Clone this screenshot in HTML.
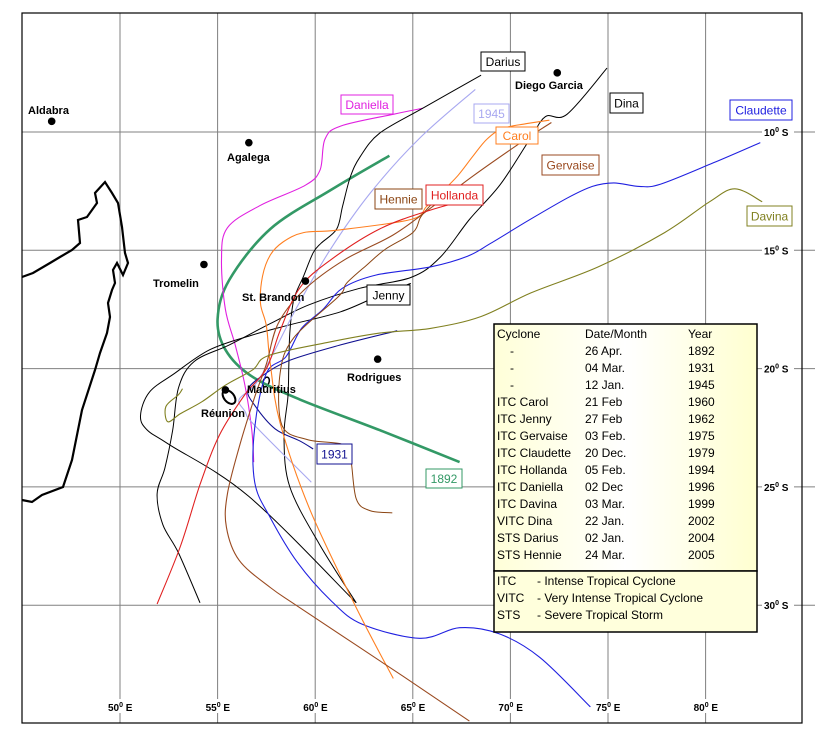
<!DOCTYPE html>
<html><head><meta charset="utf-8"><style>
body{margin:0;background:#fff;}
svg{display:block;font-family:"Liberation Sans",sans-serif;}
.pl{font-size:11px;font-weight:bold;fill:#000;}
.ax{font-size:10px;font-weight:bold;fill:#000;}
.tb{font-size:12px;}
.lg{font-size:12px;fill:#000;}
</style></head><body>
<svg id="map" width="838" height="741" viewBox="0 0 838 741">
<defs>
<linearGradient id="lgbg" x1="0" x2="1" y1="0" y2="0">
<stop offset="0" stop-color="#ffffd8"/><stop offset="0.5" stop-color="#ffffff"/><stop offset="1" stop-color="#ffffd0"/>
</linearGradient>
</defs>
<g id="grid"></g>
<path fill="none" stroke="#000" stroke-width="2.2" d="M22,277 L33,273 L50,263 L60,257 L72,250 L80,243 L78,220 L87,217 L97,203 L95,193 L105,182 L112,193 L118,203 L122,227 L125,253 L128,263 L123,275 L117,263 L113,270 L115,283 L112,290 L108,303 L110,317 L107,333 L100,353 L95,370 L82,410 L72,460 L63,487 L42,495 L32,502 L22,500"/>
<ellipse cx="229" cy="397" rx="5" ry="8" transform="rotate(-40 229 397)" fill="none" stroke="#000" stroke-width="2"/>
<ellipse cx="266" cy="382" rx="3" ry="5" transform="rotate(20 266 382)" fill="none" stroke="#000" stroke-width="1.5"/>
<g id="tracks"></g>
<g id="places"></g>
<g id="labels"></g>
<rect x="22" y="13" width="780" height="710" fill="none" stroke="#000" stroke-width="1.2"/>
<g>
<rect x="494" y="324" width="263" height="247" fill="url(#lgbg)" stroke="#000" stroke-width="1.5"/>
<rect x="494" y="571" width="263" height="61" fill="#ffffdc" stroke="#000" stroke-width="1.5"/>
<g id="legrows"></g>
<text class="lg" x="497" y="585">ITC</text><text class="lg" x="537" y="585">-  Intense Tropical Cyclone</text>
<text class="lg" x="497" y="602">VITC</text><text class="lg" x="537" y="602">-  Very Intense Tropical Cyclone</text>
<text class="lg" x="497" y="619">STS</text><text class="lg" x="537" y="619">-  Severe Tropical Storm</text>
</g>
</svg>
<script>
const lonTicks=[50,55,60,65,70,75,80];
const latTicks=[10,15,20,25,30];
function X(lon){return 120+(lon-50)*19.52;}
function Y(lat){return 132+(lat-10)*23.66;}
const NS='http://www.w3.org/2000/svg';
function mk(t,a,p){const e=document.createElementNS(NS,t);for(const k in a)e.setAttribute(k,a[k]);p.appendChild(e);return e;}
const grid=document.getElementById('grid');
lonTicks.forEach(v=>{
  const l=mk('line',{x1:X(v),x2:X(v),y1:13,y2:723,stroke:'#808080','stroke-width':1},grid);
  
  
  mk('rect',{x:X(v)-17,y:699,width:36,height:14,fill:'#fff'},grid);
  const t=mk('text',{x:X(v)-12,y:711,class:'ax'},grid);
  t.innerHTML=v+'<tspan dy="-4" font-size="7">0</tspan><tspan dy="4"> E</tspan>';
  
  
});
latTicks.forEach(v=>{
  const l=mk('line',{x1:22,x2:815,y1:Y(v),y2:Y(v),stroke:'#808080','stroke-width':1},grid);
  
  
  mk('rect',{x:762,y:Y(v)-8,width:32,height:14,fill:'#fff'},grid);
  const t=mk('text',{x:764,y:Y(v)+4,class:'ax'},grid);
  t.innerHTML=v+'<tspan dy="-4" font-size="7">0</tspan><tspan dy="4"> S</tspan>';
  
  
});
// track data [lon, lat S]
const t1892=[[63.8,11.0],[60.8,12.45],[57.7,14.1],[55.6,16.25],[55.0,17.9],[55.4,19.2],[56.7,20.3],[59.2,21.3],[63.3,22.6],[67.4,23.95]];
const tDaniella=[[65.5,9.0],[64.0,9.25],[61.3,9.75],[60.5,10.3],[60.25,11.6],[59.5,12.25],[57.2,13.1],[55.5,14.05],[55.2,15.4],[55.4,17.5],[55.9,19.0],[56.4,20.7],[56.75,22.6],[56.85,23.95]];
const tDarius=[[68.5,7.6],[65.5,9.0],[63.3,10.05],[62.3,11.05],[61.8,11.9],[61.4,13.15],[61.1,14.1],[60.3,14.7],[59.9,15.1],[59.4,16.1],[58.9,17.1],[58.7,18.5],[58.65,19.9],[58.6,21.2],[58.4,22.9],[58.7,25.0],[60.2,27.4],[62.1,29.9]];
const tDina=[[74.95,7.3],[72.9,9.25],[71.8,9.35],[71.0,10.3],[69.5,12.2],[67.9,13.7],[66.4,15.3],[64.9,16.15],[62.3,16.6],[59.7,17.3],[57.7,18.1],[55.6,19.0],[53.8,19.7],[53.0,20.8],[52.7,22.6],[52.3,24.2],[51.9,25.3],[52.2,26.6],[53.0,27.8],[54.1,29.9]];
const tJenny=[[64.9,16.4],[63.3,16.9],[61.3,17.6],[58.7,18.15],[56.7,18.6],[54.6,19.2],[52.8,20.2],[51.5,21.0],[51.05,22.0],[51.4,22.6],[52.5,23.2],[56.6,25.4],[62.1,29.9]];
const t1945=[[68.2,8.2],[65.3,10.3],[62.8,12.6],[60.75,15.0],[59.0,17.5],[57.7,19.6],[56.9,20.7],[56.1,21.3],[56.4,21.8],[56.9,22.4],[59.8,24.8]];
const t1931=[[64.2,18.4],[61.3,19.0],[58.7,19.65],[57.3,20.3],[56.55,20.9],[56.9,21.55],[57.95,22.55],[59.2,23.05],[59.9,23.4]];
const tClaudette=[[82.8,10.45],[80.4,11.3],[77.7,12.2],[76.6,12.3],[75.3,12.15],[74.2,12.3],[72.9,12.8],[70.9,13.75],[69.0,14.7],[67.8,15.25],[65.9,15.7],[63.1,16.05],[61.4,16.6],[60.4,17.5],[59.3,18.3],[58.5,19.5],[57.5,20.2],[56.9,22.5],[56.9,24.8],[57.7,26.3],[59.1,28.2],[60.8,29.8],[62.4,30.8],[65.35,31.4],[67.4,30.95],[69.4,31.2],[71.5,32.2],[74.1,34.3]];
const tCarol=[[72.0,9.5],[70.8,9.65],[69.6,9.85],[68.8,10.3],[68.1,11.0],[67.3,11.85],[66.4,12.6],[65.7,13.15],[64.9,13.7],[61.1,14.15],[59.4,14.25],[58.35,14.65],[57.7,15.2],[57.3,16.1],[57.2,17.25],[57.5,18.2],[57.7,19.8],[58.2,22.3],[59.7,25.9],[62.1,30.1],[64.0,33.1]];
const tGervaise=[[72.1,9.6],[70.7,10.35],[68.1,11.85],[66.1,13.1],[64.0,14.35],[61.5,15.4],[59.4,16.7],[58.1,18.1],[57.5,19.8],[56.9,21.2],[56.15,23.2],[55.5,25.3],[55.45,26.7],[56.1,28.1],[57.7,29.25],[59.2,30.1],[64.5,33.0],[67.9,34.9]];
const tHennie=[[65.9,13.1],[65.4,13.6],[65.0,14.25],[63.6,14.95],[62.6,15.65],[61.6,16.4],[61.2,16.95],[58.9,18.7],[58.2,20.2],[58.3,22.4],[59.6,23.0],[61.4,23.2],[61.8,23.7],[62.1,25.5],[62.8,26.0],[63.95,26.1]];
const tHollanda=[[68.6,12.7],[65.9,13.3],[63.3,14.1],[60.8,15.4],[59.2,16.6],[58.2,18.4],[57.5,20.0],[56.4,21.1],[55.1,22.8],[54.1,24.9],[53.1,27.5],[51.9,29.95]];
const tDavina=[[82.9,12.95],[81.5,12.4],[80.2,12.95],[77.9,14.25],[74.5,15.7],[71.05,16.8],[68.5,17.8],[65.9,18.3],[63.3,18.5],[60.6,18.9],[57.6,19.45],[56.8,20.05],[55.4,20.7],[54.2,21.4],[53.1,21.9],[52.45,22.25],[52.35,21.6],[53.0,21.1],[53.2,20.85]];
const tracks=[
 ['1892',t1892,'#339966',2.6],['daniella',tDaniella,'#e020e0',1.1],['darius',tDarius,'#000',1],
 ['dina',tDina,'#000',1],['jenny',tJenny,'#000',1],['1945',t1945,'#a8a8f0',1.1],['1931',t1931,'#101090',1.1],
 ['claudette',tClaudette,'#2020e0',1.1],['carol',tCarol,'#ff7f20',1.1],['gervaise',tGervaise,'#9a4a20',1.1],
 ['hennie',tHennie,'#8b4513',1],['hollanda',tHollanda,'#e02020',1.1],['davina',tDavina,'#808020',1.1]];
function smooth(pts){
  const p=pts.map(d=>[X(d[0]),Y(d[1])]);
  let s='M'+p[0][0].toFixed(1)+','+p[0][1].toFixed(1);
  for(let i=0;i<p.length-1;i++){
    const p0=p[Math.max(0,i-1)],p1=p[i],p2=p[i+1],p3=p[Math.min(p.length-1,i+2)];
    const c1=[p1[0]+(p2[0]-p0[0])/6,p1[1]+(p2[1]-p0[1])/6];
    const c2=[p2[0]-(p3[0]-p1[0])/6,p2[1]-(p3[1]-p1[1])/6];
    s+=' C'+c1[0].toFixed(1)+','+c1[1].toFixed(1)+' '+c2[0].toFixed(1)+','+c2[1].toFixed(1)+' '+p2[0].toFixed(1)+','+p2[1].toFixed(1);
  }
  return s;
}
const tg=document.getElementById('tracks');
tracks.forEach(t=>{
  const e=mk('path',{d:smooth(t[1]),fill:'none',stroke:t[2],'stroke-width':t[3]},tg);
  
  
});
// places
const placeNames=['Aldabra','Agalega','Tromelin','St. Brandon','Diego Garcia','Rodrigues','Mauritius','Réunion'];
const placeDots=[[46.5,9.55],[56.6,10.45],[54.3,15.6],[59.5,16.3],[72.4,7.5],[63.2,19.6],null,[55.4,20.9]];
const placeText=[[28,114],[227,161],[153,287],[242,301],[515,89],[347,381],[247,393],[201,417]];
const pg=document.getElementById('places');
placeNames.forEach((n,i)=>{
  if(placeDots[i]){const c=mk('circle',{cx:X(placeDots[i][0]),cy:Y(placeDots[i][1]),r:3.8,fill:'#000'},pg);
  
  }
  const t=mk('text',{x:placeText[i][0],y:placeText[i][1],class:'pl'},pg);
  t.textContent=n;
  
  
});
// track name boxes
const lbls=[['Darius',481,52,44,19,'#000'],['Daniella',341,95,52,19,'#e020e0'],['1945',474,104,35,19,'#a8a8f0'],['Carol',496,127,42,17,'#ff7f20'],['Dina',610,93,33,20,'#000'],['Claudette',730,100,62,20,'#2020e0'],['Gervaise',542,155,57,20,'#9a4a20'],['Hennie',375,189,47,20,'#8b4513'],['Hollanda',426,185,57,20,'#e02020'],['Jenny',367,285,43,20,'#000'],['1931',317,444,35,20,'#101090'],['1892',426,469,36,19,'#339966'],['Davina',747,206,45,20,'#808020']];
const lg=document.getElementById('labels');
lbls.forEach(l=>{
  const r=mk('rect',{x:l[1],y:l[2],width:l[3],height:l[4],fill:'#fff',stroke:l[5],'stroke-width':1},lg);
  
  
  const t=mk('text',{x:l[1]+l[3]/2,y:l[2]+l[4]/2+4.5,'text-anchor':'middle',class:'tb',fill:l[5]},lg);
  t.textContent=l[0];
  
  
});
// legend rows
const legName=['Cyclone','   -','   -','   -','ITC Carol','ITC Jenny','ITC Gervaise','ITC Claudette','ITC Hollanda','ITC Daniella','ITC Davina','VITC Dina','STS Darius','STS Hennie'];
const legDate=['Date/Month','26 Apr.','04 Mar.','12 Jan.','21 Feb','27 Feb','03 Feb.','20 Dec.','05 Feb.','02 Dec','03 Mar.','22 Jan.','02 Jan.','24 Mar.'];
const legYear=['Year','1892','1931','1945','1960','1962','1975','1979','1994','1996','1999','2002','2004','2005'];
const lr=document.getElementById('legrows');
legName.forEach((n,i)=>{
  const y=338+i*17;
  const a=mk('text',{x:n.trim()==='-'?510:497,y:y,class:'lg'},lr);a.textContent=n.trim();
  
  
  const b=mk('text',{x:585,y:y,class:'lg'},lr);b.textContent=legDate[i];
  
  
  const c=mk('text',{x:688,y:y,class:'lg'},lr);c.textContent=legYear[i];
  
  
});
</script>
</body></html>
